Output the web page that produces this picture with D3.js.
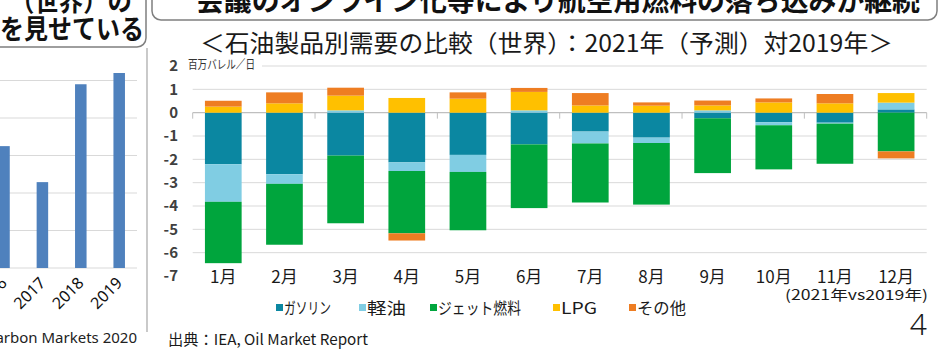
<html>
<head>
<meta charset="utf-8">
<script src="https://d3js.org/d3.v7.min.js"></script>
<style>
  body { margin: 0; background: #fff; }
  svg { display: block; font-family: "Noto Sans CJK JP", "Noto Sans", sans-serif; }
  line.grid { stroke: #d9d9d9; stroke-width: 1px; }
  text.ylab { font-weight: bold; fill: #404040; font-size: 15px; text-anchor: end; }
</style>
</head>
<body>
<svg id="slide" width="941" height="352"></svg>
<script>
// --- data: monthly demand 2021 (forecast) vs 2019, million barrels/day ---
const months = ["1月", "2月", "3月", "4月", "5月", "6月", "7月", "8月", "9月", "10月", "11月", "12月"];
const products = ["ガソリン", "軽油", "ジェット燃料", "LPG", "その他"];
const gasoline = [-2.21, -2.64, -1.84, -2.13, -1.81, -1.36, -0.81, -1.07, -0.24, -0.41, -0.43, 0.14];
const diesel   = [-1.61, -0.41, 0.10, -0.37, -0.73, 0.10, -0.51, -0.23, 0.10, -0.13, -0.04, 0.29];
const jetFuel  = [-2.63, -2.61, -2.90, -2.67, -2.50, -2.73, -2.53, -2.64, -2.35, -1.89, -1.72, -1.66];
const lpg      = [0.26, 0.40, 0.63, 0.63, 0.60, 0.79, 0.31, 0.30, 0.21, 0.44, 0.40, 0.41];
const others   = [0.25, 0.47, 0.34, -0.31, 0.27, 0.17, 0.53, 0.14, 0.21, 0.17, 0.40, -0.30];
const yTicks = [2, 1, 0, -1, -2, -3, -4, -5, -6, -7];

// left (cropped) chart
const leftYears = ["2016", "2017", "2018", "2019"];
const leftValues = [3.25, 2.29, 4.9, 5.2];
const leftTicks = [0, 1, 2, 3, 4, 5];

const colors = ["#0b87a1", "#80cde3", "#00a53d", "#ffc000", "#ee7d22"];

const svg = d3.select("#slide");

// ---------- left cropped panel ----------
const left = svg.append("g");
left.append("rect")
  .attr("x", -20).attr("y", -30).attr("width", 166).attr("height", 77)
  .attr("rx", 9).attr("fill", "#fff").attr("stroke", "#7f7f7f").attr("stroke-width", 1.5);
left.append("text").text("（世界）の")
  .attr("x", 10).attr("y", 11).attr("textLength", 122).attr("lengthAdjust", "spacingAndGlyphs")
  .attr("font-size", 27).attr("font-weight", "bold").attr("fill", "#111");
left.append("text").text("を見せている")
  .attr("x", 0).attr("y", 39).attr("textLength", 144).attr("lengthAdjust", "spacingAndGlyphs")
  .attr("font-size", 27).attr("font-weight", "bold").attr("fill", "#111");

const lx = d3.scaleBand().domain(leftYears).range([-15.2, 138.4]).paddingInner(0.7).paddingOuter(0.35);
const ly = d3.scaleLinear().domain([0, 5]).range([268, 80.5]);
left.selectAll("line.grid").data(leftTicks).join("line")
  .attr("class", "grid")
  .attr("x1", 0).attr("x2", 137)
  .attr("y1", d => ly(d)).attr("y2", d => ly(d));
left.selectAll("rect.bar").data(leftValues).join("rect")
  .attr("class", "bar")
  .attr("x", (d, i) => lx(leftYears[i]))
  .attr("width", lx.bandwidth())
  .attr("y", d => ly(d))
  .attr("height", d => ly(0) - ly(d))
  .attr("fill", "#4f81bd");
left.selectAll("text.year").data(leftYears).join("text")
  .attr("class", "year")
  .text(d => d)
  .attr("transform", d => `translate(${lx(d) + lx.bandwidth() / 2 + 4},${284}) rotate(-45)`)
  .attr("text-anchor", "end")
  .attr("font-family", "Noto Sans")
  .attr("font-size", 16).attr("fill", "#111");
left.append("text").text("Carbon Markets 2020")
  .attr("x", 137).attr("y", 343).attr("text-anchor", "end")
  .attr("font-family", "Noto Sans").attr("font-size", 15).attr("fill", "#222");
left.append("line")
  .attr("x1", 147).attr("x2", 147).attr("y1", 48).attr("y2", 332)
  .attr("stroke", "#a6a6a6").attr("stroke-width", 1.2);

// ---------- right panel ----------
svg.append("rect")
  .attr("x", 152).attr("y", -30).attr("width", 785).attr("height", 50)
  .attr("rx", 9).attr("fill", "#fff").attr("stroke", "#7f7f7f").attr("stroke-width", 1.5);
svg.append("text").text("会議のオンライン化等により航空用燃料の落ち込みが継続")
  .attr("x", 196).attr("y", 11).attr("textLength", 724).attr("lengthAdjust", "spacingAndGlyphs")
  .attr("font-size", 28).attr("font-weight", "bold").attr("fill", "#111");
svg.append("text").text("＜石油製品別需要の比較（世界）：2021年（予測）対2019年＞")
  .attr("x", 200).attr("y", 52).attr("textLength", 693).attr("lengthAdjust", "spacingAndGlyphs")
  .attr("font-size", 24).attr("fill", "#1a1a1a");

const x = d3.scaleBand().domain(months).range([192.7, 926.7]).paddingInner(0.4).paddingOuter(0.2);
const y = d3.scaleLinear().domain([-7, 2]).range([276, 66]);

const chart = svg.append("g");
// gridlines (skip 0 and -7)
chart.selectAll("line.grid").data(yTicks.filter(d => d !== 0 && d !== -7)).join("line")
  .attr("class", "grid")
  .attr("x1", d => d === 2 ? 262 : 192.7).attr("x2", 926.7)
  .attr("y1", d => y(d)).attr("y2", d => y(d));
chart.append("text").text("百万バレル／日")
  .attr("x", 188).attr("y", 69).attr("textLength", 67).attr("lengthAdjust", "spacingAndGlyphs")
  .attr("font-size", 12).attr("fill", "#333");
chart.selectAll("text.ylab").data(yTicks).join("text")
  .attr("class", "ylab")
  .text(d => d)
  .attr("x", 178).attr("y", d => y(d)).attr("dy", "0.36em");

// zero axis with tick marks every two months
const step = x.step();
chart.selectAll("line.tick").data(d3.range(0, 13, 2)).join("line")
  .attr("class", "tick")
  .attr("x1", d => 192.7 + d * step).attr("x2", d => 192.7 + d * step)
  .attr("y1", y(0)).attr("y2", y(0) + 6)
  .attr("stroke", "#bfbfbf");
chart.append("line")
  .attr("x1", 192.7).attr("x2", 926.7).attr("y1", y(0)).attr("y2", y(0))
  .attr("stroke", "#bfbfbf").attr("stroke-width", 1.3);

// stacked bars
const series = [gasoline, diesel, jetFuel, lpg, others];
const rows = months.map((m, i) => {
  const r = { month: m };
  products.forEach((p, k) => { r[p] = series[k][i]; });
  return r;
});
const stacked = d3.stack().keys(products).offset(d3.stackOffsetDiverging)(rows);
chart.selectAll("g.series").data(stacked).join("g")
  .attr("class", "series")
  .attr("fill", (d, i) => colors[i])
  .selectAll("rect").data(d => d).join("rect")
  .attr("x", d => x(d.data.month))
  .attr("width", x.bandwidth())
  .attr("y", d => y(Math.max(d[0], d[1])))
  .attr("height", d => Math.abs(y(d[0]) - y(d[1])));

// month labels
chart.selectAll("text.month").data(months).join("text")
  .attr("class", "month")
  .text(d => d)
  .attr("x", d => x(d) + x.bandwidth() / 2)
  .attr("y", 283)
  .attr("text-anchor", "middle")
  .attr("font-size", 17).attr("fill", "#1a1a1a");
chart.append("text").text("(2021年vs2019年)")
  .attr("x", 785).attr("y", 300).attr("textLength", 143).attr("lengthAdjust", "spacingAndGlyphs")
  .attr("font-size", 14).attr("fill", "#1a1a1a");

// legend
const legendX = [276, 359, 430, 553, 629];
const legendW = [47, 39, 83, 36, 49];
const legend = chart.selectAll("g.legend").data(products).join("g")
  .attr("class", "legend")
  .attr("transform", (d, i) => `translate(${legendX[i]},304)`);
legend.append("rect").attr("width", 7).attr("height", 7).attr("fill", (d, i) => colors[i]);
legend.append("text").text(d => d)
  .attr("x", 8).attr("y", 10)
  .attr("textLength", (d, i) => legendW[i]).attr("lengthAdjust", "spacingAndGlyphs")
  .attr("font-size", 16).attr("fill", "#1a1a1a");

svg.append("text").text("出典：IEA, Oil Market Report")
  .attr("x", 168).attr("y", 345).attr("textLength", 200).attr("lengthAdjust", "spacingAndGlyphs")
  .attr("font-size", 15).attr("fill", "#1a1a1a");
svg.append("text").text("4")
  .attr("x", 927).attr("y", 335).attr("text-anchor", "end")
  .attr("font-family", "Noto Sans").attr("font-weight", 300)
  .attr("font-size", 30).attr("fill", "#1a1a1a");
</script>
</body>
</html>
